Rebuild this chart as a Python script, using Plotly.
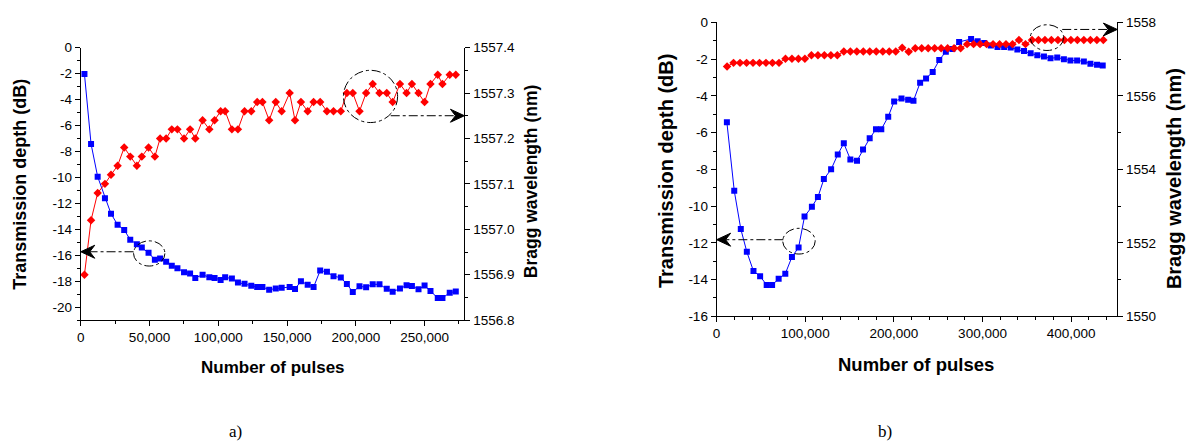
import plotly.graph_objects as go

# ---------------- panel a) ----------------
pulses_a = [2700, 7500, 12300, 17600, 22000, 26800, 31600, 36000, 40800, 44400,
            49300, 53900, 57700, 62100, 66200, 70300, 75100, 79500, 83300, 88600,
            93500, 97300, 101700, 105000, 109900, 114300, 119100, 124000, 128300, 132100,
            137000, 141800, 146100, 151900, 155800, 160100, 165000, 169300, 174100, 179000,
            183800, 189100, 193500, 197800, 202700, 207500, 212300, 217200, 222500, 226800,
            232100, 236900, 240800, 245600, 250000, 254300, 259600, 263000, 268300, 272700]
depth_a = [-2.03, -7.42, -9.95, -11.6, -12.8, -13.65, -14.05, -14.8, -15.15, -15.4,
           -15.8, -16.35, -16.25, -16.5, -16.8, -17.0, -17.3, -17.4, -17.75, -17.5,
           -17.7, -17.75, -17.9, -17.7, -17.8, -18.1, -18.2, -18.35, -18.45, -18.45,
           -18.65, -18.57, -18.5, -18.45, -18.6, -18.0, -18.27, -18.45, -17.18, -17.28,
           -17.62, -17.72, -18.22, -18.84, -18.39, -18.47, -18.24, -18.24, -18.59, -18.81,
           -18.57, -18.32, -18.37, -18.62, -18.34, -18.76, -19.29, -19.29, -18.89, -18.79]
bragg_a = [1556.90, 1557.02, 1557.08, 1557.10, 1557.12, 1557.14, 1557.18, 1557.16, 1557.14, 1557.16,
           1557.18, 1557.16, 1557.20, 1557.20, 1557.22, 1557.22, 1557.20, 1557.22, 1557.20, 1557.24,
           1557.22, 1557.24, 1557.26, 1557.26, 1557.22, 1557.22, 1557.26, 1557.26, 1557.28, 1557.28,
           1557.24, 1557.28, 1557.26, 1557.30, 1557.24, 1557.28, 1557.26, 1557.28, 1557.28, 1557.26,
           1557.26, 1557.26, 1557.30, 1557.30, 1557.26, 1557.30, 1557.32, 1557.30, 1557.30, 1557.28,
           1557.32, 1557.30, 1557.32, 1557.30, 1557.28, 1557.32, 1557.34, 1557.32, 1557.34, 1557.34]

# ---------------- panel b) ----------------
pulses_b_depth = [11600, 19900, 27300, 34100, 41600, 49100, 56500, 62600, 70000, 77500,
                  85000, 92500, 99200, 107500, 114300, 121000, 129200, 136700, 143500, 150900,
                  158400, 165200, 172700, 179800, 185800, 193600, 200300, 208600, 216100, 222100,
                  229600, 236300, 243800, 251200, 258600, 266000, 273600, 287100, 294500, 301900,
                  309300, 316900, 324400, 331800, 339300, 346800, 354300, 361800, 369300, 376700,
                  384300, 391800, 399200, 406700, 414300, 421700, 429200, 435600]
depth_b = [-5.44, -9.16, -11.25, -12.49, -13.54, -13.82, -14.3, -14.3, -13.96, -13.68,
           -12.77, -12.25, -10.56, -10.04, -9.51, -8.53, -8.0, -7.19, -6.58, -7.46,
           -7.53, -6.92, -6.31, -5.82, -5.82, -5.13, -4.30, -4.14, -4.21, -4.26,
           -3.28, -3.05, -2.70, -2.05, -1.59, -1.44, -1.06, -0.90, -1.03, -1.12,
           -1.25, -1.33, -1.33, -1.37, -1.47, -1.56, -1.68, -1.79, -1.86, -1.95,
           -1.91, -2.00, -2.07, -2.07, -2.12, -2.25, -2.30, -2.35]
pulses_b_bragg = [11800, 19100, 26400, 33800, 41100, 48400, 55700, 63000, 70400, 77700,
                  85000, 92300, 99600, 107000, 114300, 121600, 128900, 136200, 143500, 150900,
                  158200, 165500, 172800, 180100, 187500, 194800, 202100, 209400, 216700, 224100,
                  231400, 238700, 246000, 253300, 260600, 267900, 275300, 282600, 289900, 297200,
                  304600, 311900, 319200, 326500, 333800, 341100, 348500, 355800, 363100, 370400,
                  377700, 385100, 392400, 399700, 407000, 414300, 421700, 429000, 436300]
bragg_b = [1556.80, 1556.90, 1556.90, 1556.90, 1556.90, 1556.90, 1556.90, 1556.90, 1556.90, 1557.01,
           1557.01, 1557.01, 1557.01, 1557.11, 1557.11, 1557.11, 1557.11, 1557.11, 1557.21, 1557.21,
           1557.21, 1557.21, 1557.21, 1557.21, 1557.21, 1557.21, 1557.21, 1557.31, 1557.20, 1557.30,
           1557.30, 1557.30, 1557.30, 1557.30, 1557.30, 1557.30, 1557.30, 1557.41, 1557.41, 1557.41,
           1557.41, 1557.41, 1557.41, 1557.41, 1557.41, 1557.52, 1557.41, 1557.52, 1557.52, 1557.52,
           1557.52, 1557.52, 1557.52, 1557.52, 1557.52, 1557.52, 1557.52, 1557.52, 1557.52]

# tick labels
xticks_a = [0, 50000, 100000, 150000, 200000, 250000]
xticks_b = [0, 100000, 200000, 300000, 400000]
depth_ticks_a = [0, -2, -4, -6, -8, -10, -12, -14, -16, -18, -20]
depth_ticks_b = [0, -2, -4, -6, -8, -10, -12, -14, -16]
bragg_ticks_a = [1556.8, 1556.9, 1557.0, 1557.1, 1557.2, 1557.3, 1557.4]
bragg_ticks_b = [1550, 1552, 1554, 1556, 1558]

FONT = "Liberation Sans, Arial, sans-serif"
BLUE = "#0000ff"
RED = "#ff0000"
W, H = 1194, 448


def fmt_thousands(v):
    return f"{v:,d}"


def hy(v):
    return str(v).replace("\u2212", "-")


fig = go.Figure()

fig.add_trace(go.Scatter(x=pulses_a, y=depth_a, xaxis="x", yaxis="y", mode="lines+markers",
                         line=dict(color=BLUE, width=1),
                         marker=dict(symbol="square", size=6, color=BLUE)))
fig.add_trace(go.Scatter(x=pulses_a, y=bragg_a, xaxis="x", yaxis="y2", mode="lines+markers",
                         line=dict(color=RED, width=1),
                         marker=dict(symbol="diamond", size=6.5, color=RED)))
fig.add_trace(go.Scatter(x=pulses_b_depth, y=depth_b, xaxis="x2", yaxis="y3", mode="lines+markers",
                         line=dict(color=BLUE, width=1),
                         marker=dict(symbol="square", size=6, color=BLUE)))
fig.add_trace(go.Scatter(x=pulses_b_bragg, y=bragg_b, xaxis="x2", yaxis="y4", mode="lines+markers",
                         line=dict(color=RED, width=1),
                         marker=dict(symbol="diamond", size=6.5, color=RED)))

# plot areas in pixels (left, right, top, bottom)
box_a = (77, 462, 42, 324)
box_b = (715, 1117, 16, 320)


def xdom(b):
    return [b[0] / W, b[1] / W]


def ydom(b):
    return [(H - b[3]) / H, (H - b[2]) / H]


tickfont = dict(family=FONT, size=13.5, color="black")
common = dict(showline=True, linecolor="black", linewidth=1, ticks="outside", ticklen=5,
              tickcolor="black", tickfont=tickfont, showgrid=False, zeroline=False)
minor_common = dict(ticks="outside", ticklen=3, tickcolor="black", showgrid=False)

x_end_a = 279000
x_end_b = 452000

fig.update_layout(
    width=W, height=H, margin=dict(l=0, r=0, t=0, b=0),
    paper_bgcolor="white", plot_bgcolor="white", showlegend=False,
    xaxis=dict(domain=xdom(box_a), anchor="y", range=[0, x_end_a],
               tickvals=xticks_a, ticktext=[fmt_thousands(v) for v in xticks_a],
               minor=dict(dtick=25000, tick0=0, **minor_common), **common),
    yaxis=dict(domain=ydom(box_a), anchor="x", range=[-21, 0],
               tickvals=depth_ticks_a, ticktext=[hy(v) for v in depth_ticks_a],
               minor=dict(dtick=1, tick0=0, **minor_common), **common),
    yaxis2=dict(overlaying="y", anchor="x", side="right", range=[1556.8, 1557.4],
                tickvals=bragg_ticks_a, ticktext=[f"{v:.1f}" for v in bragg_ticks_a],
                minor=dict(dtick=0.05, tick0=1556.8, **minor_common), **common),
    xaxis2=dict(domain=xdom(box_b), anchor="y3", range=[0, x_end_b],
                tickvals=xticks_b, ticktext=[fmt_thousands(v) for v in xticks_b],
                minor=dict(dtick=20000, tick0=0, **minor_common), **common),
    yaxis3=dict(domain=ydom(box_b), anchor="x2", range=[-16, 0],
                tickvals=depth_ticks_b, ticktext=[hy(v) for v in depth_ticks_b],
                minor=dict(dtick=1, tick0=0, **minor_common), **common),
    yaxis4=dict(overlaying="y3", anchor="x2", side="right", range=[1550, 1558],
                tickvals=bragg_ticks_b, ticktext=[str(v) for v in bragg_ticks_b],
                minor=dict(dtick=1, tick0=1550, **minor_common), **common),
)


def px_x(v):
    return v / W


def px_y(v):
    return (H - v) / H


# axis titles: (text, centre x px, centre y px, angle, font size)
titles = [
    ("Number of pulses", 270, 373, 0, 17),
    ("Number of pulses", 915, 370, 0, 18.5),
    ("Transmission depth (dB)", 16, 183, -90, 18),
    ("Bragg wavelength (nm)", 529, 180, -90, 17.5),
    ("Transmission depth (dB)", 665, 170, -90, 20),
    ("Bragg wavelength (nm)", 1174, 178, -90, 20),
]
for text, xp, yp, ang, fs in titles:
    fig.add_annotation(text=f"<b>{text}</b>", x=px_x(xp), y=px_y(yp), xref="paper", yref="paper",
                       showarrow=False, textangle=ang,
                       font=dict(family=FONT, size=fs, color="black"),
                       xanchor="center", yanchor="middle")

for text, xp in (("a)", 232), ("b)", 884)):
    fig.add_annotation(text=text, x=px_x(xp), y=px_y(439), xref="paper", yref="paper",
                       showarrow=False, font=dict(family="Liberation Serif, serif", size=17, color="black"),
                       xanchor="center", yanchor="middle")

# dash-dot ellipses marking which axis each series belongs to
ellipses = [
    # (xref, yref, x0, x1, y0, y1)
    ("x", "y2", 191000, 230400, 1557.235, 1557.350),
    ("x", "y", 38400, 61200, -16.83, -14.89),
    ("x2", "y3", 74600, 111200, -12.61, -11.21),
    ("x2", "y4", 353900, 391500, 1557.237, 1557.937),
]
for xr, yr, x0, x1, y0, y1 in ellipses:
    fig.add_shape(type="circle", xref=xr, yref=yr, x0=x0, x1=x1, y0=y0, y1=y1,
                  line=dict(color="black", width=1, dash="dashdot"))

# dash-dot pointer lines with filled arrowheads at the axis
pointers = [
    # (xref, yref, x_start, x_tip, y, direction)
    ("x", "y2", 225400, x_end_a, 1557.250, 1),
    ("x", "y", 38400, 0, -15.73, -1),
    ("x2", "y3", 75300, 0, -11.83, -1),
    ("x2", "y4", 389900, x_end_b, 1557.81, 1),
]
for xr, yr, xs, xt, yv, d in pointers:
    # stop the dashed line just before the arrowhead
    scale = x_end_a / (box_a[1] - box_a[0]) if xr == "x" else x_end_b / (box_b[1] - box_b[0])
    x_line_end = xt - d * 9 * scale
    fig.add_shape(type="line", xref=xr, yref=yr, x0=xs, x1=x_line_end, y0=yv, y1=yv,
                  line=dict(color="black", width=1, dash="dashdot"))
    path = (f"M0,0 L{-d*14},-6.5 L{-d*9},0 L{-d*14},6.5 Z")
    fig.add_shape(type="path", xref=xr, yref=yr, xsizemode="pixel", ysizemode="pixel",
                  xanchor=xt, yanchor=yv, path=path,
                  fillcolor="black", line=dict(color="black", width=1))

fig.write_html("out.html")
